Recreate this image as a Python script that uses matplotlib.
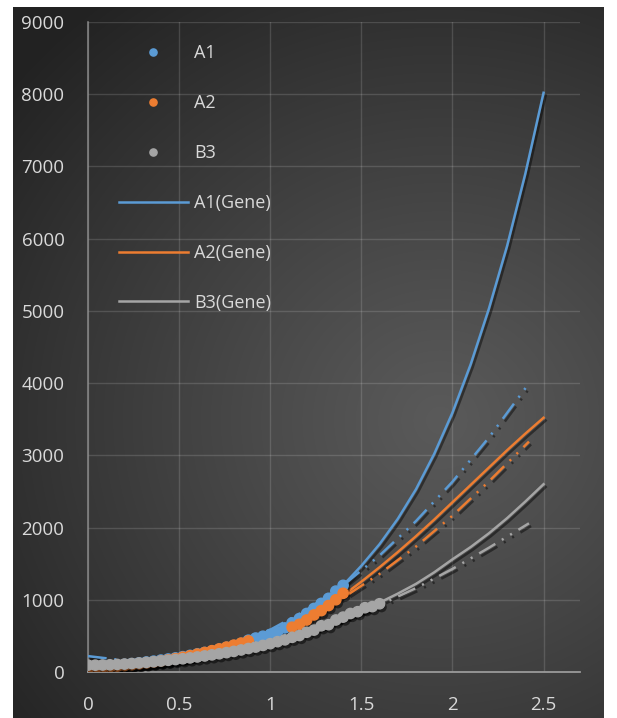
import numpy as np
import matplotlib
matplotlib.use("Agg")
import matplotlib.pyplot as plt
import matplotlib.patheffects as pe

plt.rcParams['font.family'] = ['Open Sans', 'DejaVu Sans']
plt.rcParams['lines.scale_dashes'] = False

# ---- measured series ----
a1_x = [0.00, 0.04, 0.08, 0.12, 0.16, 0.20, 0.24, 0.28, 0.32, 0.36, 0.40, 0.44,
        0.48, 0.52, 0.56, 0.60, 0.64, 0.68, 0.72, 0.76, 0.80, 0.84, 0.88, 0.92,
        0.96, 1.00, 1.04, 1.08, 1.12, 1.16, 1.20, 1.24, 1.28, 1.32, 1.36, 1.40]
a1_y = [70, 75, 80, 88, 95, 105, 115, 125, 138, 150, 165, 180,
        195, 212, 230, 250, 270, 290, 315, 340, 365, 395, 440, 470,
        495, 520, 555, 610, 680, 740, 810, 880, 950, 1020, 1120, 1200]

a2_x = [0.00, 0.04, 0.08, 0.12, 0.16, 0.20, 0.24, 0.28, 0.32, 0.36, 0.40, 0.44,
        0.48, 0.52, 0.56, 0.60, 0.64, 0.68, 0.72, 0.76, 0.80, 0.84, 0.88,
        1.12, 1.16, 1.20, 1.24, 1.28, 1.32, 1.36, 1.40]
a2_y = [60, 62, 66, 72, 80, 90, 100, 112, 125, 138, 152, 168,
        185, 205, 225, 248, 270, 295, 320, 345, 372, 400, 430,
        620, 660, 720, 790, 850, 920, 1000, 1090]

b3_x = [0.00, 0.04, 0.08, 0.12, 0.16, 0.20, 0.24, 0.28, 0.32, 0.36, 0.40, 0.44,
        0.48, 0.52, 0.56, 0.60, 0.64, 0.68, 0.72, 0.76, 0.80, 0.84, 0.88, 0.92,
        0.96, 1.00, 1.04, 1.08, 1.12, 1.16, 1.20, 1.24, 1.28, 1.32, 1.36, 1.40,
        1.44, 1.48, 1.52, 1.56, 1.60]
b3_y = [95, 95, 97, 100, 105, 110, 117, 125, 133, 142, 152, 162,
        172, 183, 195, 208, 222, 237, 252, 268, 285, 305, 325, 345,
        368, 392, 420, 445, 480, 505, 550, 580, 640, 655, 720, 760,
        810, 835, 890, 905, 945]

# ---- model curves ----
a1g_x = [0.0, 0.2, 0.4, 0.6, 0.8, 1.0, 1.1, 1.2, 1.3, 1.4, 1.5, 1.6, 1.7, 1.8,
         1.9, 2.0, 2.1, 2.2, 2.3, 2.4, 2.5]
a1g_y = [0, 40, 110, 215, 355, 540, 650, 790, 960, 1200, 1470, 1770, 2120, 2530,
         3020, 3590, 4260, 5030, 5900, 6900, 8020]

a2g_x = [0.99, 1.1, 1.2, 1.3, 1.4, 1.5, 1.6, 1.7, 1.8, 1.9, 2.0, 2.1, 2.2, 2.3,
         2.4, 2.5]
a2g_y = [460, 600, 735, 890, 1060, 1250, 1450, 1660, 1880, 2110, 2350, 2590,
         2830, 3070, 3300, 3520]

b3g_x = [0.0, 0.2, 0.4, 0.6, 0.8, 1.0, 1.1, 1.2, 1.3, 1.4, 1.5, 1.6, 1.7, 1.8,
         1.9, 2.0, 2.1, 2.2, 2.3, 2.4, 2.5]
b3g_y = [80, 100, 140, 200, 285, 390, 460, 540, 630, 730, 840, 960, 1085, 1220,
         1380, 1560, 1730, 1920, 2130, 2360, 2600]

# ---- trend lines ----
trend_x = [0.0, 0.2, 0.4, 0.6, 0.8, 1.0, 1.2, 1.4, 1.6, 1.8, 2.0, 2.2, 2.42]
a1t_y = [220, 160, 165, 237, 377, 585, 860, 1200, 1613, 2090, 2634, 3246, 3997]
a2t_y = [60, 54, 96, 186, 325, 511, 745, 1028, 1359, 1737, 2164, 2639, 3190]
b3t_y = [80, 85, 119, 181, 272, 393, 542, 720, 926, 1162, 1427, 1720, 2059]

x_ticks = [0, 0.5, 1, 1.5, 2, 2.5]
x_tick_labels = ["0", "0.5", "1", "1.5", "2", "2.5"]
y_ticks = [0, 1000, 2000, 3000, 4000, 5000, 6000, 7000, 8000, 9000]

BLUE, ORANGE, GRAY = "#5B9BD5", "#ED7D31", "#A5A5A5"
TEXT = "#D9D9D9"

W, H = 617, 718
fig = plt.figure(figsize=(W / 100, H / 100), dpi=100)
fig.patch.set_facecolor("white")

# dark radial-gradient chart area
bx0, bx1, by0, by1 = 13, 604, 7, 718
bg = fig.add_axes([bx0 / W, 1 - by1 / H, (bx1 - bx0) / W, (by1 - by0) / H], zorder=0)
gx, gy = np.meshgrid(np.arange(bx0, bx1), np.arange(by0, by1))
d = np.hypot(gx - 440, (gy - 420) * 1.05)
t = np.clip(d / 560, 0, 1) ** 1.1
inner = np.array([0x5a, 0x5a, 0x5a]) / 255
outer = np.array([0x22, 0x22, 0x22]) / 255
img = inner[None, None, :] * (1 - t[..., None]) + outer[None, None, :] * t[..., None]
bg.imshow(img, aspect="auto", interpolation="bilinear")
bg.axis("off")

ax = fig.add_axes([88 / W, 1 - 672 / H, (580 - 88) / W, (672 - 22) / H], zorder=1)
ax.patch.set_alpha(0)
ax.set_xlim(0, 2.7)
ax.set_ylim(0, 9000)

line_shadow = [pe.SimpleLineShadow(offset=(1.5, -2.0), shadow_color="black", alpha=0.45),
               pe.Normal()]
dot_shadow = [pe.SimplePatchShadow(offset=(1.5, -2.5), shadow_rgbFace="black", alpha=0.5),
              pe.Normal()]

MS = 7.4
h1, = ax.plot(a1_x, a1_y, ls="none", marker="o", ms=MS, color=BLUE, mec=BLUE,
              label="A1", path_effects=dot_shadow, zorder=6)
h2, = ax.plot(a2_x, a2_y, ls="none", marker="o", ms=MS, color=ORANGE, mec=ORANGE,
              label="A2", path_effects=dot_shadow, zorder=6)
h3, = ax.plot(b3_x, b3_y, ls="none", marker="o", ms=MS, color=GRAY, mec=GRAY,
              label="B3", path_effects=dot_shadow, zorder=6)

g1, = ax.plot(a1g_x, a1g_y, color=BLUE, lw=1.8, label="A1(Gene)",
              path_effects=line_shadow, zorder=4)
g2, = ax.plot(a2g_x, a2g_y, color=ORANGE, lw=1.8, label="A2(Gene)",
              path_effects=line_shadow, zorder=4)
g3, = ax.plot(b3g_x, b3g_y, color=GRAY, lw=1.8, label="B3(Gene)",
              path_effects=line_shadow, zorder=4)

dash = (0, (13.5, 5.5, 1.5, 5.5, 1.5, 5.5))
for ys, c in ((a1t_y, BLUE), (a2t_y, ORANGE), (b3t_y, GRAY)):
    ax.plot(trend_x, ys, color=c, lw=1.8, ls=dash, path_effects=line_shadow, zorder=5)

ax.set_xticks(x_ticks)
ax.set_xticklabels(x_tick_labels)
ax.set_yticks(y_ticks)
ax.tick_params(length=0, labelsize=13.5, labelcolor=TEXT)
ax.tick_params(axis="y", pad=17)
ax.tick_params(axis="x", pad=17)
ax.grid(True, color="white", alpha=0.14, lw=1.0)
ax.set_axisbelow(True)
for s in ("top", "right"):
    ax.spines[s].set_visible(False)
ax.spines["left"].set_color("#8a8a8a")
ax.spines["bottom"].set_color("#9a9a9a")
ax.spines["left"].set_linewidth(1.1)
ax.spines["bottom"].set_linewidth(1.3)

leg = ax.legend(handles=[h1, h2, h3, g1, g2, g3], loc="upper left",
                bbox_to_anchor=(119 / W, 1 - 44 / H), bbox_transform=fig.transFigure,
                frameon=False, fontsize=13, labelcolor=TEXT, numpoints=1,
                handlelength=3.8, handletextpad=0.35, labelspacing=1.77,
                borderpad=0, borderaxespad=0, markerscale=0.7)
for lh in leg.get_lines():
    lh.set_path_effects([])

fig.savefig("out.png", dpi=100, facecolor=fig.get_facecolor())
